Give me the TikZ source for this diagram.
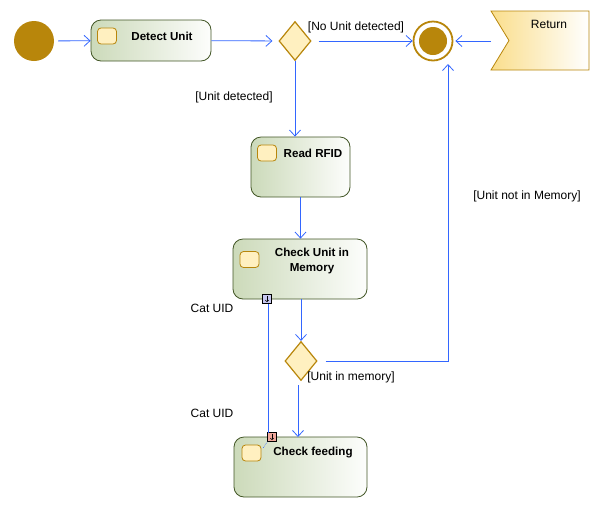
\documentclass[tikz,border=0pt]{standalone}
\usepackage{fontspec}
\setmainfont{Liberation Sans}
\usepackage{tikz}
\usetikzlibrary{arrows.meta,calc,shapes.geometric}
\definecolor{umlgold}{RGB}{184,134,11}
\definecolor{umlpale}{RGB}{255,240,192}
\definecolor{umlgreen}{RGB}{204,218,186}
\definecolor{umledge}{RGB}{66,86,38}
\definecolor{umlblue}{RGB}{51,102,255}
\definecolor{umlsignal}{RGB}{250,222,140}
\definecolor{pinblue}{RGB}{200,200,240}
\definecolor{pinred}{RGB}{240,168,156}
\def\pinmark(#1){\draw[line width=0.5pt, -{Straight Barb[length=1.5pt,width=3.5pt]}] ([yshift=3pt]#1.center) -- ([yshift=-3pt]#1.center);}

\begin{document}
\begin{tikzpicture}[x=1pt, y=-1pt,
		every node/.style={font=\fontsize{12}{15}\selectfont},
		action/.style={draw=umledge, line width=0.8pt, rounded corners=10pt, left color=umlgreen, right color=white!96!umlgreen},
		acttext/.style={font=\fontsize{11.6}{15}\selectfont\bfseries, align=center},
		icon/.style={draw=umlgold, line width=0.8pt, fill=umlpale, rounded corners=3.5pt, minimum width=19pt, minimum height=16pt, inner sep=0pt},
		decision/.style={diamond, draw=umlgold, line width=1.2pt, fill=umlpale, minimum width=32pt, minimum height=39pt, inner sep=0pt},
		pinbox/.style={draw=black, line width=0.6pt, minimum size=9pt, inner sep=0pt},
		flow/.style={draw=umlblue, line width=0.8pt, -{Straight Barb[length=6pt,width=11pt]}},
		guard/.style={text=black}]
			%%%%% START %%%%%
			\useasboundingbox (0,0) rectangle (602,507);
			
			\node[circle, fill=umlgold, minimum size=40pt, inner sep=0pt] (init) at (34,41) {};
			
			\node[action, minimum width=120pt, minimum height=41pt] (detect) at (151,40.5) {};
			\node[icon] (detecticon) at (107,36) {};
			\node[acttext] (detecttext) at (162,36) {Detect Unit};
			
			\node[decision] (unitq) at (295,41) {};
			
			\node[circle, draw=umlgold, line width=1.8pt, fill=white, minimum size=39pt, inner sep=0pt] (final) at (433,41) {};
			\fill[umlgold] (final) circle (14);
			
			\shade[left color=umlsignal, right color=white, draw=umlgold, line width=0.8pt] (491,11) -- (589,11) -- (589,70) -- (491,70) -- (509,40.5) -- cycle;
			\coordinate (retout) at (491,41);
			\node (rettext) at (549,24) {Return};
			
			\node[action, minimum width=99pt, minimum height=60pt] (read) at (300.5,167) {};
			\node[icon] (readicon) at (267,153) {};
			\node[acttext] (readtext) at (313,153) {Read RFID};
			
			\node[action, minimum width=134pt, minimum height=60pt] (check) at (300,269) {};
			\node[icon] (checkicon) at (249.5,259.5) {};
			\node[acttext] (checktext) at (312,261) {Check Unit in\\Memory};
			
			\node[decision] (memq) at (301,361) {};
			
			\node[action, minimum width=133pt, minimum height=60pt] (feed) at (300.5,467) {};
			\node[icon] (feedicon) at (251.5,453) {};
			\node[acttext] (feedtext) at (313,453) {Check feeding};
			
			% pins
			\node[pinbox, fill=pinblue] (uidout) at (267,299) {};
			\pinmark(uidout)
			\node[pinbox, fill=pinred] (uidin) at (272,437) {};
			\pinmark(uidin)
			\coordinate (finalin) at (448,64);
			
			% control flow
			\draw[flow, shorten <=4pt] (init) -- (detect);
			\draw[flow, shorten >=6pt] (detect) -- (unitq);
			\draw[flow, shorten <=7pt] (unitq) -- (final);
			\draw[flow, shorten >=2pt] (retout) -- (final);
			\draw[flow] (unitq) -- (unitq |- read.north);
			\draw[flow] (read.south) -- (read.south |- check.north);
			\draw[flow] (check.south -| memq) -- (memq.north);
			\draw[flow, shorten <=4pt] (memq.south -| 298,0) -- (298,437);
			\draw[flow, shorten <=8pt] (memq.east) -| (finalin);
			
			% object flow
			\draw[umlblue, line width=0.8pt] (uidout.south -| 268,0) -- (268,432.5);
			\draw[umlblue, line width=0.6pt, densely dotted] (uidin.south west) -- ++(-4,6);
			
			\node[guard] (noguard) at (356,27) {[No Unit detected]};
			\node[guard] (yesguard) at (234,97) {[Unit detected]};
			\node[guard] (notmemguard) at (527,196) {[Unit not in Memory]};
			\node[guard] (memguard) at (351,377) {[Unit in memory]};
			\node (outlbl) at (212,308) {Cat UID};
			\node (inlbl) at (212,413) {Cat UID};
			%%%%% END %%%%%
\end{tikzpicture}
\end{document}
